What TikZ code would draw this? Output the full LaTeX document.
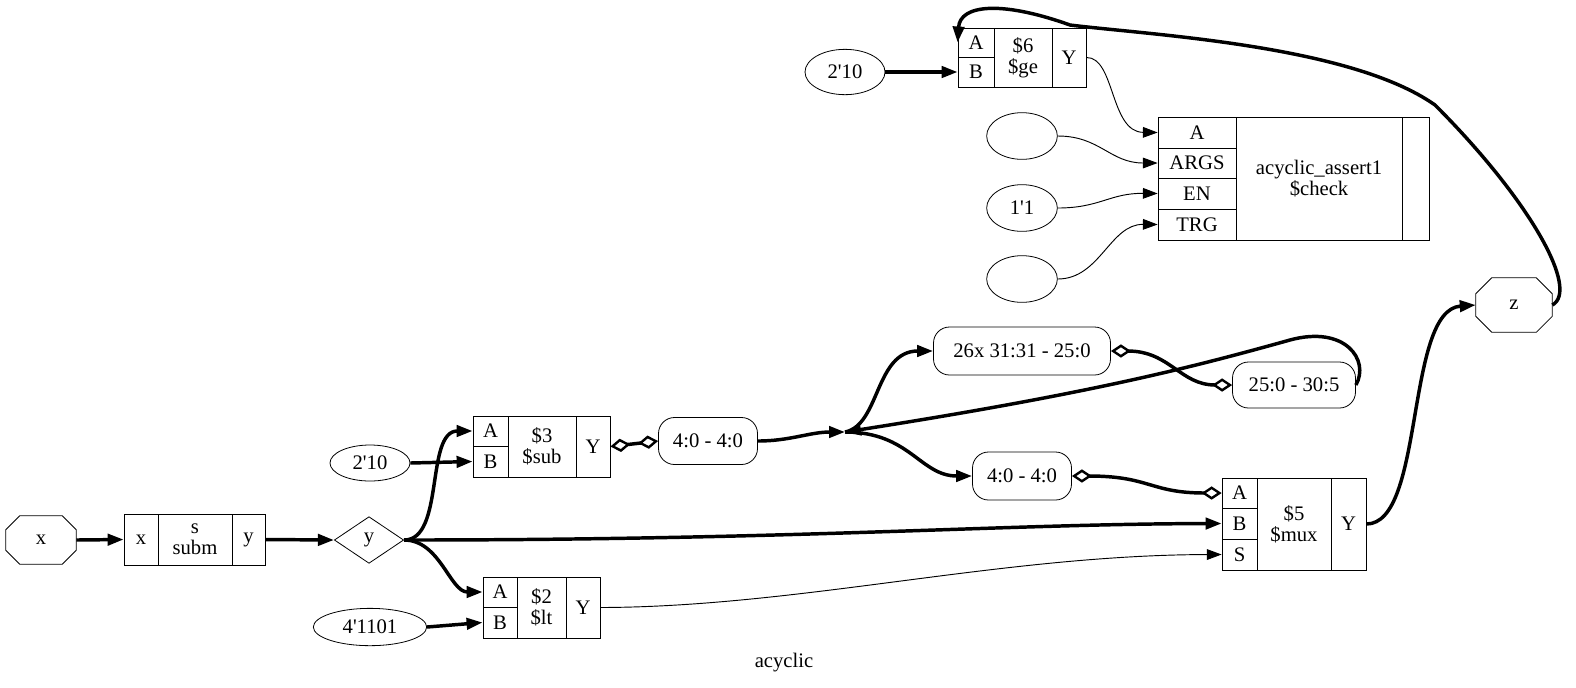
\documentclass[tikz,border=0pt]{standalone}
\usepackage{fontspec}
\setmainfont{Liberation Serif}
\usetikzlibrary{arrows.meta,shapes.geometric,calc}
\newcommand\cell[6]{\node[cell,minimum width={(#4-#2)*0.75pt},minimum height={(#5-#3)*0.75pt}] (#1) at ({(#2+#4)/2},{(#3+#5)/2}) {#6};}
\newcommand\q{\textquotesingle}
\newcommand\octo[2]{\draw[line width=0.6pt] ($(#1.north west)+(#2,0)$) -- ($(#1.north east)+(-#2,0)$) -- ($(#1.north east)+(0,#2)$) -- ($(#1.south east)+(0,-#2)$) -- ($(#1.south east)+(-#2,0)$) -- ($(#1.south west)+(#2,0)$) -- ($(#1.south west)+(0,-#2)$) -- ($(#1.north west)+(0,#2)$) -- cycle;}
\begin{document}
\begin{tikzpicture}[x=0.75pt,y=-0.75pt,
  every node/.style={font=\fontsize{15.5}{16}\selectfont},
  cell/.style={draw,rectangle,inner sep=0pt,align=center,line width=0.6pt},
  oct/.style={rectangle,inner sep=0pt},
  ell/.style={draw,ellipse,inner sep=0pt,line width=0.6pt},
  rnd/.style={draw,rectangle,rounded corners=12pt,inner sep=0pt,line width=0.6pt},
  bus/.style={line width=2.6pt,-{Triangle[length=12pt,width=8.5pt]}},
  wire/.style={line width=0.7pt,-{Triangle[length=11pt,width=8pt]}},
  dd/.style={line width=2.6pt,{Diamond[open,length=15pt,width=10pt,line width=1.8pt]}-{Diamond[open,length=15pt,width=10pt,line width=1.8pt]}}]
\useasboundingbox (0,0) rectangle (1576,687);
% left part
\node[oct,minimum width={70*0.75pt},minimum height={48*0.75pt}] (x) at (41,540) {x};
\octo{x}{14}
\cell{sx}{124}{514}{158}{565}{x}
\cell{sm}{158}{514}{232}{565}{s\\subm}
\cell{sy}{232}{514}{265}{565}{y}
\node[draw,diamond,aspect=1.5,minimum width=52pt,minimum height=35pt,inner sep=0pt,line width=0.6pt] (y) at (369,540) {y};
\node[ell,minimum width=60pt,minimum height=27pt] (c210) at (370,463) {2\q10};
\node[ell,minimum width=85pt,minimum height=28pt] (c1101) at (370,627) {4\q1101};
% $3
\cell{s3a}{473}{416}{508}{446}{A}
\cell{s3b}{473}{446}{508}{477}{B}
\cell{s3m}{508}{416}{576}{477}{\$3\\\$sub}
\cell{s3y}{576}{416}{610}{477}{Y}
% $2
\cell{s2a}{483}{577}{517}{607}{A}
\cell{s2b}{483}{607}{517}{638}{B}
\cell{s2m}{517}{577}{566}{638}{\$2\\\$lt}
\cell{s2y}{566}{577}{600}{638}{Y}
% slices
\node[rnd,minimum width={99*0.75pt},minimum height={47*0.75pt}] (sl1) at (708,441) {4:0 - 4:0};
\coordinate (pt) at (845,432);
\node[rnd,minimum width={177*0.75pt},minimum height={48*0.75pt}] (sl2) at (1022,351) {26x 31:31 - 25:0};
\node[rnd,minimum width={123*0.75pt},minimum height={46*0.75pt}] (sl3) at (1294,385) {25:0 - 30:5};
\node[rnd,minimum width={99*0.75pt},minimum height={48*0.75pt}] (sl4) at (1022,476) {4:0 - 4:0};
% $5
\cell{s5a}{1222}{478}{1257}{508}{A}
\cell{s5b}{1222}{508}{1257}{539}{B}
\cell{s5s}{1222}{539}{1257}{570}{S}
\cell{s5m}{1257}{478}{1331}{570}{\$5\\\$mux}
\cell{s5y}{1331}{478}{1366}{570}{Y}
\node[oct,minimum width={76*0.75pt},minimum height={54*0.75pt}] (z) at (1514,305) {z};
\octo{z}{16}
% $6
\cell{s6a}{958}{28}{994}{57}{A}
\cell{s6b}{958}{57}{994}{87}{B}
\cell{s6m}{994}{28}{1052}{87}{\$6\\\$ge}
\cell{s6y}{1052}{28}{1086}{87}{Y}
\node[ell,minimum width=60pt,minimum height=34pt] (t210) at (845,72) {2\q10};
% check
\cell{ca}{1158}{117}{1236}{148}{A}
\cell{cg}{1158}{148}{1236}{178}{ARGS}
\cell{ce}{1158}{178}{1236}{209}{EN}
\cell{ct}{1158}{209}{1236}{240}{TRG}
\cell{cm}{1236}{117}{1402}{240}{acyclic\_assert1\\\$check}
\cell{cr}{1402}{117}{1429}{240}{}
\node[ell,minimum width=53pt,minimum height=35pt] (e1) at (1022,136) {};
\node[ell,minimum width=53pt,minimum height=35pt] (e2) at (1022,208) {1\q1};
\node[ell,minimum width=53pt,minimum height=35pt] (e3) at (1022,279) {};
\node (title) at (784,663) {acyclic};
% connectors
\draw[bus] (x.east) -- (sx.west);
\draw[bus] (sy.east) -- (y.west);
\draw[bus] (y.east) .. controls (445,540) and (425,431) .. (s3a.west);
\draw[bus] (y.east) .. controls (440,540) and (450,592) .. (s2a.west);
\draw[bus] (y.east) .. controls (800,540) and (1000,524) .. (s5b.west);
\draw[bus] (c210.east) -- (s3b.west);
\draw[bus] (c1101.east) -- (s2b.west);
\draw[dd] (s3y.east) -- (sl1.west);
\draw[bus] (sl1.east) .. controls (790,441) and (810,432) .. (pt);
\draw[bus] (pt) .. controls (880,425) and (875,351) .. (sl2.west);
\draw[bus] (pt) .. controls (910,432) and (920,476) .. (sl4.west);
\draw[dd] (sl2.east) .. controls (1170,351) and (1180,385) .. (sl3.west);
\draw[bus] (sl3.east) .. controls (1370,360) and (1345,325) .. (1290,340) .. controls (1200,365) and (1100,392) .. (pt);
\draw[dd] (sl4.east) .. controls (1150,476) and (1150,493) .. (s5a.west);
\draw[wire] (s2y.east) .. controls (800,607) and (1000,555) .. (s5s.west);
\draw[bus] (s5y.east) .. controls (1425,524) and (1405,310) .. (z.west);
\draw[bus] (z.east) .. controls (1580,290) and (1530,200) .. (1435,105) .. controls (1350,45) and (1150,35) .. (1070,25) .. controls (1000,0) and (960,5) .. (s6a.west);
\draw[bus] (t210.east) -- (s6b.west);
\draw[wire] (s6y.east) .. controls (1115,57) and (1110,132) .. (ca.west);
\draw[wire] (e1.east) .. controls (1100,136) and (1110,163) .. (cg.west);
\draw[wire] (e2.east) .. controls (1100,208) and (1110,193) .. (ce.west);
\draw[wire] (e3.east) .. controls (1100,279) and (1110,224) .. (ct.west);
\end{tikzpicture}
\end{document}
